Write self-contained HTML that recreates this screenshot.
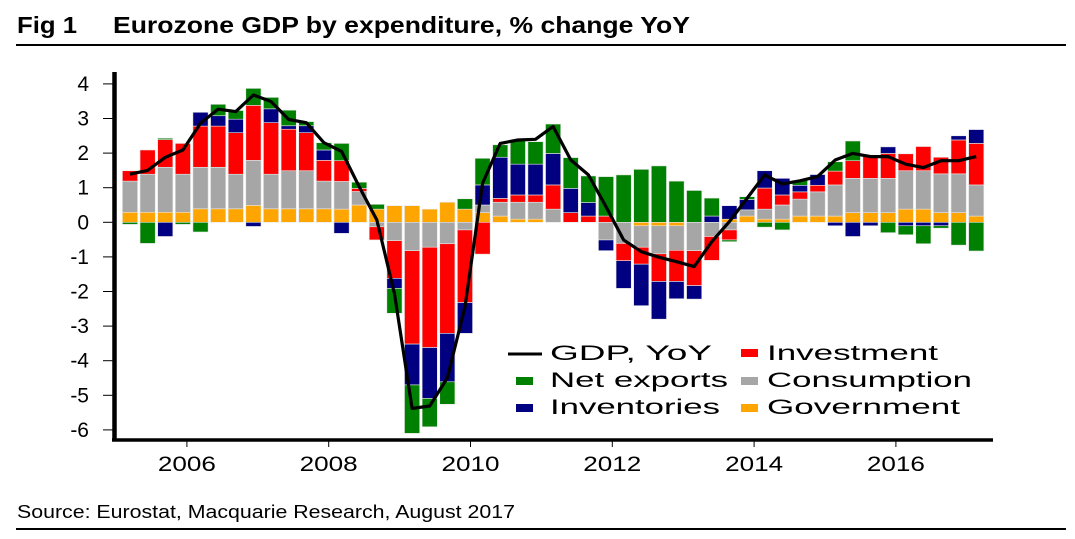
<!DOCTYPE html>
<html><head><meta charset="utf-8"><style>
html,body{margin:0;padding:0;background:#fff;}
svg{display:block;font-family:"Liberation Sans",Arial,sans-serif;}
</style></head><body>
<svg id="chart" width="1075" height="539" viewBox="0 0 1075 539" xmlns="http://www.w3.org/2000/svg">
<text x="17" y="33" font-size="23" font-weight="bold" textLength="60" lengthAdjust="spacingAndGlyphs">Fig 1</text>
<text x="113" y="33" font-size="23" font-weight="bold" textLength="577" lengthAdjust="spacingAndGlyphs">Eurozone GDP by expenditure, % change YoY</text>
<line x1="16" y1="45" x2="1066" y2="45" stroke="#000" stroke-width="2"/>
<g id="plot"></g>
<g id="axes"></g>
<g font-size="21">
<line x1="508" y1="354" x2="542" y2="354" stroke="#000" stroke-width="3"/>
<text x="550" y="360" textLength="162" lengthAdjust="spacingAndGlyphs">GDP, YoY</text>
<rect x="741" y="349" width="17" height="8" fill="#ff0000"/>
<text x="767" y="360" textLength="171" lengthAdjust="spacingAndGlyphs">Investment</text>
<rect x="516" y="377" width="17" height="8" fill="#008000"/>
<text x="550" y="387" textLength="178" lengthAdjust="spacingAndGlyphs">Net exports</text>
<rect x="741" y="377" width="17" height="8" fill="#a6a6a6"/>
<text x="767" y="387" textLength="205" lengthAdjust="spacingAndGlyphs">Consumption</text>
<rect x="516" y="404" width="17" height="8" fill="#000080"/>
<text x="550" y="414" textLength="170" lengthAdjust="spacingAndGlyphs">Inventories</text>
<rect x="741" y="404" width="17" height="8" fill="#ffa500"/>
<text x="767" y="414" textLength="193" lengthAdjust="spacingAndGlyphs">Government</text>
</g>
<text x="17" y="518" font-size="18.5" textLength="498" lengthAdjust="spacingAndGlyphs">Source: Eurostat, Macquarie Research, August 2017</text>
<line x1="16" y1="529" x2="1066" y2="529" stroke="#000" stroke-width="2"/>
</svg>
<script>
const government = [.29,.29,.29,.29,.39,.39,.39,.49,.39,.39,.39,.39,.38,.5,.38,.48,.48,.38,.58,.38,.28,.18,.09,.09,0,0,0,0,0,-.1,-.1,-.1,0,0,.09,.18,.09,.09,.18,.18,.18,.28,.28,.28,.38,.38,.28,.28,.18];
const consumption = [.9,1.1,1.3,1.1,1.2,1.2,1.0,1.3,1.0,1.1,1.1,.8,.8,.39,-.13,-.53,-.82,-.72,-.62,-.22,.22,.4,.49,.49,.38,0,0,-.51,-.61,-.62,-.81,-.71,-.82,-.41,-.22,.18,.29,.41,.49,.7,.9,.99,.99,.99,1.11,1.11,1.12,1.12,.9];
const investment = [.3,.7,.8,.89,1.19,1.19,1.2,1.59,1.49,1.2,1.1,.6,.6,.09,-.38,-1.09,-2.7,-2.9,-2.59,-2.1,-.92,.11,.21,.21,.7,.28,.18,.18,-.5,-.49,-.8,-.9,-1.01,-.69,-.29,0,.61,.29,.21,.19,.4,.51,.63,.72,.49,.7,.48,.98,1.2];
const inventories = [0,0,-.41,0,.4,.3,.39,-.12,.4,.1,.2,.3,-.32,0,0,-.29,-1.18,-1.47,-1.4,-.89,.58,1.19,.89,.89,.91,.7,.39,-.31,-.8,-1.2,-1.09,-.5,-.39,.18,.39,.3,.5,.48,.19,.31,-.1,-.41,-.1,.19,-.1,-.1,-.1,.12,.4];
const netExports = [-.06,-.61,.04,-.06,-.28,.33,.25,.49,.33,.45,.12,.21,.5,.18,.14,-.72,-1.4,-.82,-.65,.3,.77,.36,.7,.65,.85,.89,.77,1.14,1.37,1.53,1.63,1.19,.92,.52,-.05,.08,-.14,-.22,.14,0,.27,.57,0,-.3,-.26,-.52,-.07,-.66,-.83];
const gdpYoY = [1.39,1.5,1.88,2.09,2.86,3.27,3.2,3.68,3.49,2.97,2.88,2.3,2.05,1.03,.07,-2.05,-5.38,-5.31,-4.5,-2.44,1.13,2.28,2.38,2.4,2.77,1.8,1.37,.45,-.51,-.85,-1.01,-1.14,-1.28,-.56,.02,.69,1.37,1.11,1.2,1.32,1.8,1.99,1.9,1.9,1.68,1.58,1.78,1.78,1.9];
const yTicks = [4,3,2,1,0,-1,-2,-3,-4,-5,-6];
const xYears = [2006,2008,2010,2012,2014,2016];

const NS = "http://www.w3.org/2000/svg";
const plot = document.getElementById('plot');
const axes = document.getElementById('axes');
function yScale(v){ return 222.3 - v*34.6; }
function xScale(i){ return 130 + i*17.63; }
function yearX(yr){ return 116 + (yr-2005)*70.9; }
function mk(tag, attrs, parent){ const e=document.createElementNS(NS,tag); for(const k in attrs) e.setAttribute(k,attrs[k]); parent.appendChild(e); return e; }

const series = [
  {name:'government', vals:government, color:'#ffa500'},
  {name:'consumption', vals:consumption, color:'#a6a6a6'},
  {name:'investment', vals:investment, color:'#ff0000'},
  {name:'inventories', vals:inventories, color:'#000080'},
  {name:'net-exports', vals:netExports, color:'#008000'}
];
const bw = 15.2;
for (let i=0;i<gdpYoY.length;i++){
  let pos=0, neg=0;
  for (const s of series){
    const v = s.vals[i];
    if (!v) continue;
    let y0, y1;
    if (v>0){ y0=pos; y1=pos+v; pos=y1; } else { y0=neg; y1=neg+v; neg=y1; }
    const r = mk('rect',{x:xScale(i)-bw/2, y:Math.min(yScale(y0),yScale(y1)), width:bw, height:Math.abs(yScale(y1)-yScale(y0)), fill:s.color, stroke:'#e6e6e6', 'stroke-width':0.6}, plot);
    
    
  }
}
let d='';
gdpYoY.forEach((v,i)=>{ d += (i?'L':'M')+xScale(i).toFixed(1)+','+yScale(v).toFixed(1); });
const line = mk('path',{d:d, fill:'none', stroke:'#000', 'stroke-width':3.2, 'stroke-linejoin':'round'}, plot);



const ya = mk('line',{x1:114.5,y1:72,x2:114.5,y2:441.5,stroke:'#000','stroke-width':4.5}, axes);


const xa = mk('line',{x1:112,y1:440,x2:993,y2:440,stroke:'#000','stroke-width':3.5}, axes);


yTicks.forEach(t=>{
  const tk = mk('line',{x1:103,y1:yScale(t),x2:113,y2:yScale(t),stroke:'#000','stroke-width':1}, axes);
  
  
  const lb = mk('text',{x:89,y:yScale(t)+7,'text-anchor':'end','font-size':21}, axes);
  lb.textContent = String(t);
  
  
});
xYears.forEach(yr=>{
  const x = yearX(yr);
  const tk = mk('line',{x1:x,y1:441,x2:x,y2:447,stroke:'#000','stroke-width':1}, axes);
  
  
  const lb = mk('text',{x:x-29,y:471,'font-size':21,textLength:58,lengthAdjust:'spacingAndGlyphs'}, axes);
  lb.textContent = String(yr);
  
  
});
</script>
</body></html>
